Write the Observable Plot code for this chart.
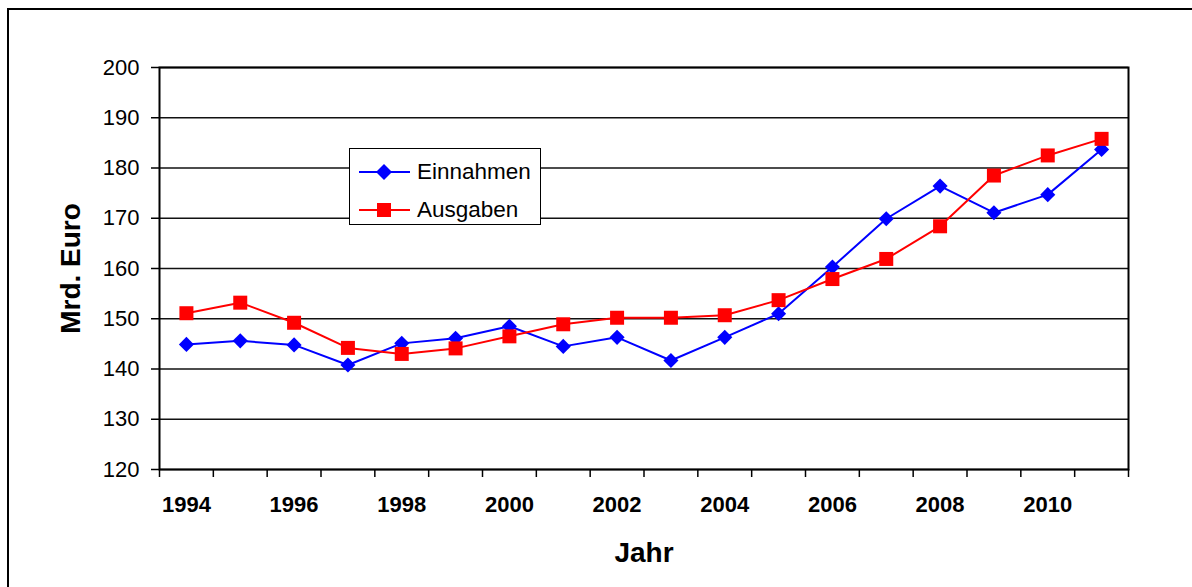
<!DOCTYPE html>
<html>
<head>
<meta charset="utf-8">
<script src="https://cdn.jsdelivr.net/npm/d3@7"></script>
<script src="https://cdn.jsdelivr.net/npm/@observablehq/plot@0.6"></script>
<style>
  html, body { margin: 0; padding: 0; background: #fff; }
  #wrap { position: relative; width: 1192px; height: 587px; overflow: hidden; font-family: "Liberation Sans", Arial, sans-serif; }
  #outer { position: absolute; left: 7px; top: 8px; width: 1300px; height: 700px; border: 2px solid #000; box-sizing: border-box; }
  #chart { position: absolute; left: 0; top: 0; }
  #legend { position: absolute; left: 349px; top: 148px; width: 192px; height: 77px; border: 1.5px solid #000; background: #fff; box-sizing: border-box; }
  #legend .row { position: absolute; left: 0; height: 30px; display: flex; align-items: center; }
  #legend .row span { font-size: 22.5px; color: #000; }
</style>
</head>
<body>
<div id="wrap">
  <div id="outer"></div>
  <div id="chart"></div>
  <div id="legend"></div>
</div>
<script>
const years = [1994,1995,1996,1997,1998,1999,2000,2001,2002,2003,2004,2005,2006,2007,2008,2009,2010,2011];
const einnahmen = [144.9,145.6,144.8,140.8,145.1,146.1,148.5,144.5,146.3,141.7,146.3,151.0,160.3,169.9,176.4,171.1,174.7,183.7];
const ausgaben  = [151.1,153.2,149.2,144.2,143.0,144.1,146.5,148.9,150.2,150.2,150.7,153.7,157.9,161.9,168.4,178.5,182.5,185.8];
const yTicks = [120,130,140,150,160,170,180,190,200];
const xLabels = [1994,1996,1998,2000,2002,2004,2006,2008,2010];
const seriesNames = ["Einnahmen","Ausgaben"];
const seriesColors = ["#0000ff","#ff0000"];

const boundaries = years.map(y => y - 0.5).concat([years[years.length-1] + 0.5]);

const chart = Plot.plot({
  width: 1192,
  height: 587,
  marginLeft: 159,
  marginRight: 64,
  marginTop: 67,
  marginBottom: 118,
  style: { fontFamily: '"Liberation Sans", Arial, sans-serif', fontSize: "22px", color: "#000", background: "transparent", overflow: "visible" },
  x: { type: "linear", domain: [boundaries[0], boundaries[boundaries.length-1]] },
  y: { domain: [yTicks[0], yTicks[yTicks.length-1]] },
  marks: [
    Plot.ruleY(yTicks, { stroke: "#111", strokeWidth: 1.6 }),
    Plot.frame({ stroke: "#000", strokeWidth: 2 }),
    Plot.axisY({ ticks: yTicks, tickSize: 8, tickPadding: 12, tickFormat: d => String(d), label: null, fontSize: 22, strokeWidth: 1.5 }),
    Plot.axisX({ ticks: boundaries, tickSize: 8, tickFormat: () => "", label: null, strokeWidth: 1.5 }),
    Plot.axisX({ ticks: xLabels, tickSize: 0, tickPadding: 27, tickFormat: d => String(d), label: null, fontSize: 22, fontWeight: "bold" }),
    Plot.text(["Jahr"], { text: d => d, frameAnchor: "bottom", dy: 84, fontSize: 28, fontWeight: "bold", lineAnchor: "middle" }),
    Plot.text(["Mrd. Euro"], { text: d => d, frameAnchor: "left", dx: -88, rotate: -90, textAnchor: "middle", fontSize: 28, fontWeight: "bold", lineAnchor: "middle" }),
    Plot.line(years, { x: years, y: einnahmen, stroke: seriesColors[0], strokeWidth: 2 }),
    Plot.line(years, { x: years, y: ausgaben, stroke: seriesColors[1], strokeWidth: 2 }),
    Plot.dot(years, { x: years, y: einnahmen, symbol: "diamond2", r: 6.8, fill: seriesColors[0], stroke: "none" }),
    Plot.dot(years, { x: years, y: ausgaben, symbol: "square", r: 7.9, fill: seriesColors[1], stroke: "none" })
  ]
});
document.getElementById("chart").appendChild(chart);

// legend
const legend = document.getElementById("legend");
const symbols = ["diamond", "square"];
seriesNames.forEach((name, i) => {
  const row = document.createElement("div");
  row.className = "row";
  row.style.top = (i === 0 ? 8 : 46) + "px";
  const sym = symbols[i] === "diamond"
    ? '<polygon points="25,7 33,15 25,23 17,15" fill="' + seriesColors[i] + '"/>'
    : '<rect x="18" y="8" width="14" height="14" fill="' + seriesColors[i] + '"/>';
  row.innerHTML = '<svg width="58" height="30" style="margin-left:9px"><line x1="0" y1="15" x2="51" y2="15" stroke="' + seriesColors[i] + '" stroke-width="2"/>' + sym + '</svg><span>' + name + '</span>';
  legend.appendChild(row);
});
</script>
</body>
</html>
